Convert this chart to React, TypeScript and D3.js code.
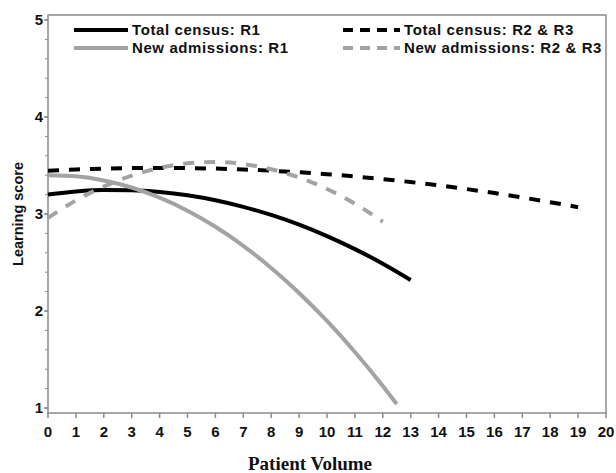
import React from "react";
import * as d3 from "d3";

const xTicks = d3.range(0, 21);
const yTicks = [1, 2, 3, 4, 5];
const yMinorTicks = d3.range(1, 5.01, 0.2);

const tcR1X = [0, 1, 2, 3, 4, 5, 6, 7, 8, 9, 10, 11, 12, 13];
const tcR1Y = [3.2, 3.232, 3.247, 3.245, 3.227, 3.193, 3.142, 3.074, 2.99, 2.89, 2.772, 2.638, 2.488, 2.32];

const tcR23X = [0, 1, 2, 3, 4, 5, 6, 7, 8, 9, 10, 11, 12, 13, 14, 15, 16, 17, 18, 19];
const tcR23Y = [3.446, 3.459, 3.468, 3.473, 3.475, 3.473, 3.468, 3.459, 3.446, 3.43, 3.41, 3.387, 3.36, 3.329, 3.295, 3.257, 3.216, 3.17, 3.122, 3.07];

const naR1X = [0, 1, 2, 3, 4, 5, 6, 7, 8, 9, 10, 11, 12, 12.5];
const naR1Y = [3.4, 3.388, 3.346, 3.273, 3.168, 3.034, 2.868, 2.672, 2.444, 2.186, 1.897, 1.577, 1.227, 1.04];

const naR23X = [0, 1, 2, 3, 4, 5, 6, 7, 8, 9, 10, 11, 12];
const naR23Y = [2.96, 3.14, 3.284, 3.396, 3.475, 3.522, 3.535, 3.515, 3.462, 3.376, 3.258, 3.106, 2.92];

const seriesNames = ["Total census: R1", "New admissions: R1", "Total census: R2 & R3", "New admissions: R2 & R3"];

export default function App() {
  const W = 616, H = 473;
  const x = d3.scaleLinear().domain([0, 20]).range([48, 606]);
  const y = d3.scaleLinear().domain([1, 5]).range([408, 20]);
  const left = 48, right = 606, top = 15, bottom = 413;
  const black = "#000";
  const gray = "#a3a3a3";
  const axisGray = "#8a8a8a";
  const sans = "Liberation Sans, Arial, sans-serif";

  const line = d3.line<[number, number]>().x(d => x(d[0])).y(d => y(d[1])).curve(d3.curveMonotoneX);
  const pts = (xs: number[], ys: number[]) => xs.map((v, i) => [v, ys[i]] as [number, number]);

  const series = [
    { name: seriesNames[0], d: pts(tcR1X, tcR1Y), color: black, dash: undefined as string | undefined },
    { name: seriesNames[1], d: pts(naR1X, naR1Y), color: gray, dash: undefined },
    { name: seriesNames[2], d: pts(tcR23X, tcR23Y), color: black, dash: "11 10" },
    { name: seriesNames[3], d: pts(naR23X, naR23Y), color: gray, dash: "11 10" },
  ];

  const legendPos = [
    { x1: 74, x2: 128, y: 30 },
    { x1: 74, x2: 128, y: 48 },
    { x1: 343, x2: 400, y: 30 },
    { x1: 343, x2: 400, y: 48 },
  ];

  return (
    <svg width={W} height={H} style={{ position: "absolute", left: 0, top: 0, background: "#fff" }}>
      <rect x={left} y={top} width={right - left} height={bottom - top} fill="none" stroke={axisGray} strokeWidth={1.5} />
      {yMinorTicks.map((t, i) => (
        <line key={"ym" + i} x1={left - 3} x2={left} y1={y(t)} y2={y(t)} stroke={axisGray} strokeWidth={1} />
      ))}
      {yTicks.map(t => (
        <g key={"y" + t}>
          <line x1={left - 4} x2={left} y1={y(t)} y2={y(t)} stroke={axisGray} strokeWidth={1.5} />
          <text x={left - 5} y={y(t)} dy="0.35em" textAnchor="end" fontFamily={sans} fontWeight="bold" fontSize={15} fill="#111">{t}</text>
        </g>
      ))}
      {xTicks.map(t => (
        <g key={"x" + t}>
          <line x1={x(t)} x2={x(t)} y1={bottom} y2={bottom + 5} stroke={axisGray} strokeWidth={1.5} />
          <text x={x(t)} y={432} dy="0.35em" textAnchor="middle" fontFamily={sans} fontWeight="bold" fontSize={15} fill="#111">{t}</text>
        </g>
      ))}
      <text transform={`translate(18,${y(3)}) rotate(-90)`} textAnchor="middle" dy="0.35em" fontFamily={sans} fontWeight="bold" fontSize={14.5} fill="#111">Learning score</text>
      <text x={310} y={463} dy="0.35em" textAnchor="middle" fontFamily="Liberation Serif, Times New Roman, serif" fontWeight="bold" fontSize={19} fill="#111">Patient Volume</text>

      {series.map((s, i) => (
        <path key={"s" + i} d={line(s.d) || ""} fill="none" stroke={s.color} strokeWidth={4} strokeDasharray={s.dash} />
      ))}

      {series.map((s, i) => (
        <g key={"l" + i}>
          <line x1={legendPos[i].x1} x2={legendPos[i].x2} y1={legendPos[i].y} y2={legendPos[i].y} stroke={s.color} strokeWidth={4} strokeDasharray={s.dash ? "10 7" : undefined} />
          <text x={legendPos[i].x2 + 4} y={legendPos[i].y} dy="0.35em" fontFamily={sans} fontWeight="bold" fontSize={15} letterSpacing={0.6} fill="#111">{s.name}</text>
        </g>
      ))}
    </svg>
  );
}
